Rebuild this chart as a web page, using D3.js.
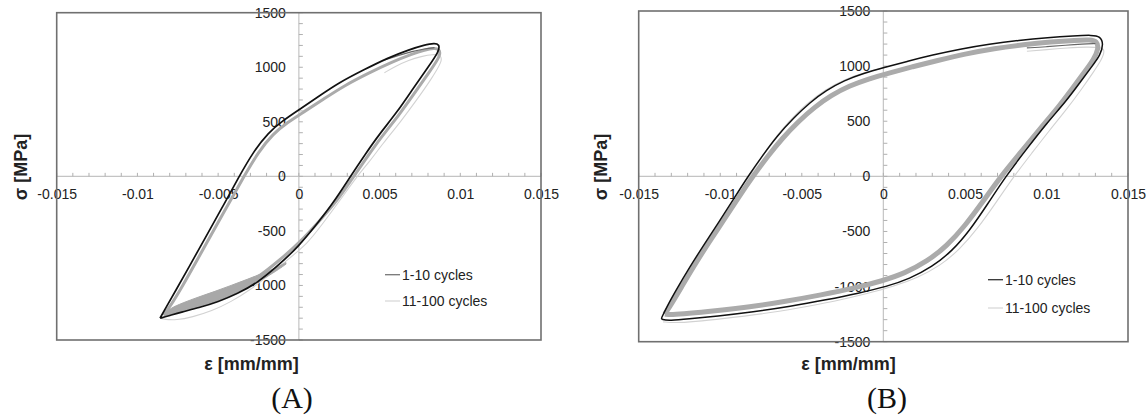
<!DOCTYPE html>
<html><head><meta charset="utf-8">
<script src="https://cdn.jsdelivr.net/npm/d3@7"></script>
<style>
html,body{margin:0;padding:0;background:#fff;}
svg{display:block;}
</style></head><body>
<svg id="chart" width="1148" height="418"></svg>
<script>
// Axis ticks and legend entries
const strainTicks = [-0.015, -0.01, -0.005, 0, 0.005, 0.01, 0.015];
const stressTicks = [-1500, -1000, -500, 0, 500, 1000, 1500];
const seriesNames = ["1-10 cycles", "11-100 cycles"];
const panelNames = ["(A)", "(B)"];

// ---- Panel A: strain [mm/mm], stress [MPa] ----
// stabilised loop of cycles 1-10
const loopA_1to10 = [
  [-0.0086,-1300],[-0.0083,-1220],[-0.0076,-1040],[-0.0068,-830],[-0.0059,-590],[-0.0048,-300],
  [-0.0037,0],[-0.0028,230],[-0.0019,400],[-0.0010,510],[0,610],[0.0012,730],[0.0025,860],
  [0.0040,975],[0.0055,1085],[0.0068,1160],[0.0078,1205],[0.0084,1222],[0.0087,1210],
  [0.0087,1150],[0.0080,1000],[0.0071,810],[0.0061,590],[0.0050,390],[0.0041,200],[0.0032,0],
  [0.0021,-250],[0.0011,-440],[0,-640],[-0.0013,-820],[-0.0026,-980],[-0.0038,-1075],
  [-0.0050,-1150],[-0.0062,-1205],[-0.0073,-1245],[-0.0081,-1280],[-0.0086,-1300]
];
// first loading segment, cycles 1-10
const firstA_1to10 = [[0.0053,1066],[0.0062,1110],[0.0070,1145],[0.0078,1170],[0.0084,1180]];
// loop of cycles 11-100
const loopA_11to100 = [
  [-0.0084,-1270],[-0.0080,-1200],[-0.0073,-1030],[-0.0065,-820],[-0.0056,-580],[-0.0045,-290],
  [-0.0034,0],[-0.0025,225],[-0.0016,390],[-0.0007,495],[0.0003,590],[0.0015,705],[0.0028,830],
  [0.0043,945],[0.0058,1050],[0.0070,1120],[0.0078,1160],[0.0084,1178],[0.0087,1165],
  [0.0088,1110],[0.0081,960],[0.0072,770],[0.0062,560],[0.0051,360],[0.0042,170],[0.0034,0],
  [0.0023,-240],[0.0012,-420],[0.0001,-600],[-0.0012,-770],[-0.0026,-935],[-0.0038,-1035],
  [-0.0050,-1110],[-0.0062,-1170],[-0.0072,-1215],[-0.0080,-1250],[-0.0084,-1270]
];
// spread of the 11-100 cycles on the compressive branch: [strain, lower, upper]
const bandA_11to100 = [
  [-0.0083,-1280,-1258],[-0.0080,-1266,-1212],[-0.0072,-1240,-1160],[-0.0062,-1200,-1105],
  [-0.0052,-1150,-1055],[-0.0042,-1090,-1000],[-0.0032,-1020,-945],[-0.0022,-940,-885],
  [-0.0014,-868,-838],[-0.0008,-805,-790]
];
// outer trace of cycles 11-100
const outerA_11to100 = [
  [0.0053,950],[0.0060,1010],[0.0068,1065],[0.0076,1100],[0.0083,1120],[0.0088,1110],
  [0.0089,1060],[0.0082,890],[0.0073,700],[0.0063,500],[0.0052,300],[0.0043,120],[0.0036,0],
  [0.0025,-230],[0.0014,-450],[0.0005,-620],[-0.0005,-740],[-0.0018,-900],[-0.0030,-1040],
  [-0.0042,-1150],[-0.0054,-1235],[-0.0066,-1290],[-0.0076,-1318],[-0.0083,-1312],[-0.0086,-1300]
];

// ---- Panel B ----
const loopB_1to10 = [
  [-0.0136,-1285],[-0.0133,-1190],[-0.0127,-1030],[-0.0119,-830],[-0.0110,-620],[-0.0101,-420],
  [-0.0092,-210],[-0.0083,0],[-0.0074,190],[-0.0065,370],[-0.0055,530],[-0.0045,670],
  [-0.0035,780],[-0.0024,870],[-0.0012,935],[0,985],[0.0015,1045],[0.0030,1100],[0.0047,1155],
  [0.0065,1200],[0.0083,1235],[0.0101,1260],[0.0117,1275],[0.0128,1282],[0.0133,1270],
  [0.0135,1200],[0.0133,1100],[0.0128,1000],[0.0121,860],[0.0112,680],[0.0100,480],[0.0088,250],
  [0.0075,0],[0.0064,-250],[0.0053,-490],[0.0042,-680],[0.0030,-820],[0.0016,-930],[0.0002,-1000],
  [-0.0015,-1060],[-0.0035,-1120],[-0.0057,-1180],[-0.0080,-1230],[-0.0102,-1268],[-0.0120,-1295],
  [-0.0131,-1308],[-0.0136,-1300],[-0.0136,-1285]
];
const firstB_1to10 = [[0.0088,1165],[0.0100,1175],[0.0112,1190],[0.0122,1200],[0.0130,1205]];
const loopB_11to100 = [
  [-0.0134,-1250],[-0.0130,-1160],[-0.0124,-1010],[-0.0116,-810],[-0.0107,-600],[-0.0098,-400],
  [-0.0089,-195],[-0.0080,0],[-0.0071,180],[-0.0062,345],[-0.0052,500],[-0.0042,630],
  [-0.0032,735],[-0.0021,820],[-0.0009,885],[0.0003,935],[0.0018,995],[0.0033,1050],
  [0.0050,1110],[0.0068,1160],[0.0086,1195],[0.0103,1220],[0.0118,1235],[0.0127,1240],
  [0.0131,1225],[0.0132,1160],[0.0129,1060],[0.0124,960],[0.0117,820],[0.0108,640],[0.0097,450],
  [0.0085,230],[0.0072,0],[0.0061,-230],[0.0050,-450],[0.0039,-630],[0.0027,-770],[0.0013,-880],
  [-0.0001,-950],[-0.0018,-1015],[-0.0038,-1075],[-0.0060,-1135],[-0.0082,-1185],[-0.0104,-1222],
  [-0.0120,-1245],[-0.0130,-1255],[-0.0134,-1250]
];
const outerB_11to100 = [
  [0.0088,1135],[0.0100,1150],[0.0113,1165],[0.0125,1175],[0.0133,1170],
  [0.0136,1150],[0.0134,1060],[0.0129,950],[0.0122,800],[0.0113,620],[0.0102,420],[0.0091,210],
  [0.0080,0],[0.0069,-240],[0.0058,-470],[0.0047,-660],[0.0035,-810],[0.0021,-920],[0.0006,-1000],
  [-0.0010,-1065],[-0.0030,-1135],[-0.0052,-1195],[-0.0075,-1250],[-0.0098,-1290],[-0.0116,-1318],
  [-0.0128,-1330],[-0.0135,-1320]
];
const innerB_11to100 = [
  [-0.0134,-1250],[-0.0126,-1030],[-0.0117,-820],[-0.0107,-590],[-0.0096,-350],[-0.0086,-100],
  [-0.0077,120],[-0.0068,320],[-0.0058,500],[-0.0047,660],[-0.0036,785],[-0.0024,880],
  [-0.0011,945],[0.0002,990]
];

const SANS = "'Liberation Sans', Arial, sans-serif";
const SERIF = "'Liberation Serif', 'Times New Roman', serif";

const svg = d3.select("#chart");
svg.append("rect").attr("width", 1148).attr("height", 418).attr("fill", "#fff");

const panels = [
  { name: panelNames[0], left: 56.7, right: 541, top: 12.7, bottom: 340,
    yTitleX: 21, xTitleX: 251.5, nameX: 292, legX: 385, legY: [274.7, 301], legDark: "#777",
    loop1: loopA_1to10, first1: firstA_1to10, loop2: loopA_11to100, band2: bandA_11to100,
    outer2: outerA_11to100, inner2: null, grayWidth: 3, blackWidth: 1.7 },
  { name: panelNames[1], left: 638.7, right: 1128, top: 11, bottom: 341.7,
    yTitleX: 601, xTitleX: 848.5, nameX: 887, legX: 988, legY: [279.7, 308], legDark: "#333",
    loop1: loopB_1to10, first1: firstB_1to10, loop2: loopB_11to100, band2: null,
    outer2: outerB_11to100, inner2: innerB_11to100, grayWidth: 5, blackWidth: 1.5 }
];

function drawPanel(p) {
  const x = d3.scaleLinear().domain([strainTicks[0], strainTicks[strainTicks.length - 1]]).range([p.left, p.right]);
  const y = d3.scaleLinear().domain([stressTicks[0], stressTicks[stressTicks.length - 1]]).range([p.bottom, p.top]);
  const g = svg.append("g");

  // axis lines through the origin
  g.append("line").attr("x1", p.left).attr("x2", p.right).attr("y1", y(0)).attr("y2", y(0))
    .attr("stroke", "#c4c4c4").attr("stroke-width", 1.2);
  g.append("line").attr("x1", x(0)).attr("x2", x(0)).attr("y1", p.top).attr("y2", p.bottom)
    .attr("stroke", "#c4c4c4").attr("stroke-width", 1.2);

  // minor ticks
  g.append("g").selectAll("line").data(x.ticks(30)).join("line")
    .attr("x1", d => x(d)).attr("x2", d => x(d)).attr("y1", y(0)).attr("y2", y(0) - 3.5)
    .attr("stroke", "#b0b0b0").attr("stroke-width", 1);
  g.append("g").selectAll("line").data(y.ticks(30)).join("line")
    .attr("x1", x(0)).attr("x2", x(0) + 4).attr("y1", d => y(d)).attr("y2", d => y(d))
    .attr("stroke", "#b0b0b0").attr("stroke-width", 1);

  // tick labels
  const xa = g.append("g").attr("transform", `translate(0,${y(0)})`)
    .call(d3.axisBottom(x).tickValues(strainTicks).tickSize(0).tickPadding(13).tickFormat(d => String(d)));
  const ya = g.append("g").attr("transform", `translate(${x(0)},0)`)
    .call(d3.axisLeft(y).tickValues(stressTicks).tickSize(0).tickPadding(13).tickFormat(d => String(d)));
  [xa, ya].forEach(a => {
    a.select(".domain").remove();
    a.selectAll("text").attr("font-size", 14).attr("fill", "#222").style("font-family", SANS);
  });

  const line = d3.line().x(d => x(d[0])).y(d => y(d[1])).curve(d3.curveBasis);

  // curves
  g.append("path").attr("d", line(p.outer2)).attr("fill", "none").attr("stroke", "#d2d2d2").attr("stroke-width", 1.1);
  if (p.inner2) g.append("path").attr("d", line(p.inner2)).attr("fill", "none").attr("stroke", "#d2d2d2").attr("stroke-width", 1.1);
  g.append("path").attr("d", line(p.loop2)).attr("fill", "none").attr("stroke", "#ababab")
    .attr("stroke-width", p.grayWidth).attr("stroke-linejoin", "round");
  if (p.band2) {
    const area = d3.area().x(d => x(d[0])).y0(d => y(d[1])).y1(d => y(d[2])).curve(d3.curveBasis);
    g.append("path").attr("d", area(p.band2)).attr("fill", "#a8a8a8").attr("stroke", "#a8a8a8").attr("stroke-width", 1);
  }
  g.append("path").attr("d", line(p.first1)).attr("fill", "none").attr("stroke", "#666").attr("stroke-width", 1.2);
  g.append("path").attr("d", line(p.loop1)).attr("fill", "none").attr("stroke", "#111")
    .attr("stroke-width", p.blackWidth).attr("stroke-linejoin", "round");

  // plot frame
  g.append("rect").attr("x", p.left).attr("y", p.top).attr("width", p.right - p.left).attr("height", p.bottom - p.top)
    .attr("fill", "none").attr("stroke", "#707070").attr("stroke-width", 1.6);

  // legend
  const legColors = [p.legDark, "#d8d8d8"];
  seriesNames.forEach((s, i) => {
    g.append("line").attr("x1", p.legX).attr("x2", p.legX + 15).attr("y1", p.legY[i]).attr("y2", p.legY[i])
      .attr("stroke", legColors[i]).attr("stroke-width", 1.3);
    g.append("text").attr("x", p.legX + 17).attr("y", p.legY[i]).attr("dy", "0.35em")
      .style("font-family", SANS).attr("font-size", 14).attr("fill", "#222").text(s);
  });

  // axis titles
  g.append("text").attr("transform", `translate(${p.yTitleX},167) rotate(-90)`)
    .attr("text-anchor", "middle").attr("dy", "0.35em").style("font-family", SANS)
    .attr("font-size", 18).attr("font-weight", "bold").attr("fill", "#222").text("σ [MPa]");
  g.append("text").attr("x", p.xTitleX).attr("y", 370).attr("text-anchor", "middle").style("font-family", SANS)
    .attr("font-size", 18).attr("font-weight", "bold").attr("fill", "#222").text("ε [mm/mm]");

  // panel name
  g.append("text").attr("x", p.nameX).attr("y", 408).attr("text-anchor", "middle")
    .style("font-family", SERIF).attr("font-size", 30).attr("fill", "#111").text(p.name);
}

panels.forEach(drawPanel);
</script>
</body></html>
